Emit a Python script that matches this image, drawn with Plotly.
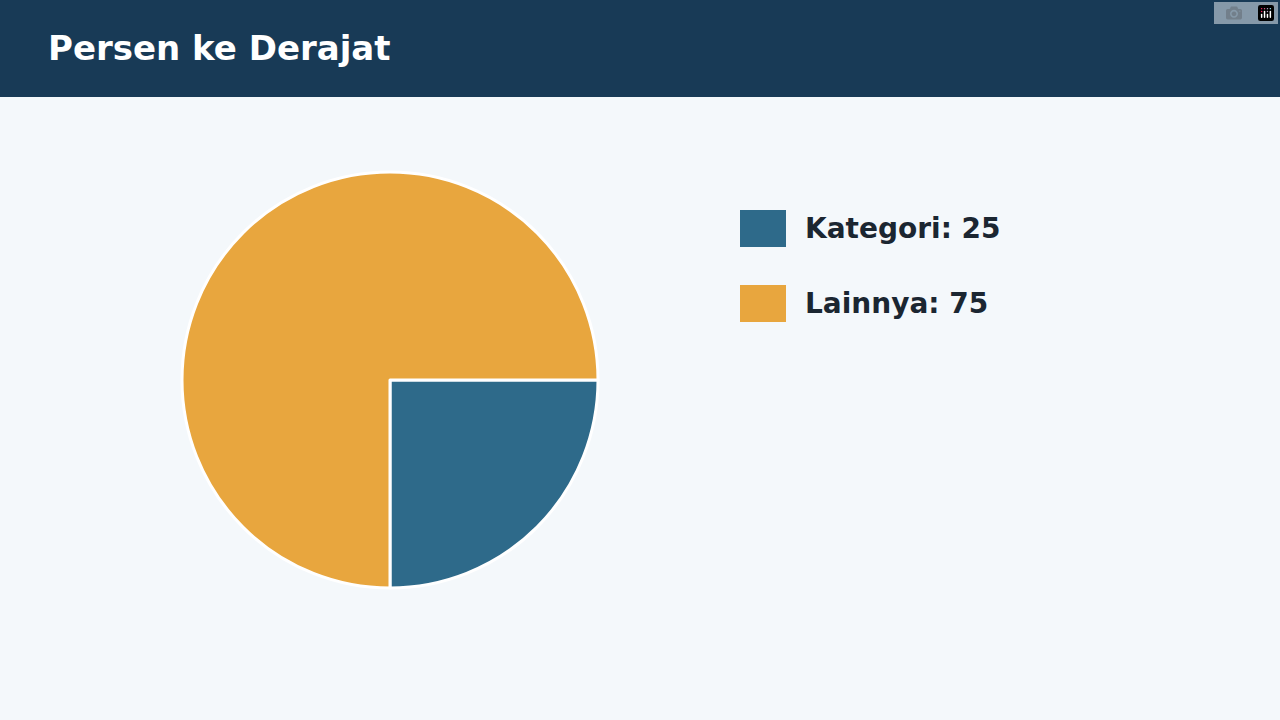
import plotly.graph_objects as go

labels = ["Kategori", "Lainnya"]
values = [25, 75]
colors = ["#2E6A8A", "#E8A63E"]
title = "Persen ke Derajat"

W, H = 1280, 720

fig = go.Figure()
fig.add_trace(go.Pie(
    labels=labels, values=values, sort=False, direction="clockwise", rotation=90,
    marker=dict(colors=colors, line=dict(color="white", width=3)),
    textinfo="none", hoverinfo="label+value", showlegend=False,
    domain=dict(x=[182 / W, 598 / W], y=[(H - 588) / H, (H - 172) / H]),
))

shapes = [dict(type="rect", xref="paper", yref="paper", x0=0, x1=1, y0=1 - 97 / H, y1=1,
               fillcolor="#183A56", line_width=0, layer="below")]
annotations = [dict(text="<b>%s</b>" % title, xref="paper", yref="paper", x=46 / W, y=1 - 48 / H,
                    xanchor="left", yanchor="middle", showarrow=False,
                    font=dict(size=34, color="white"))]

# legend drawn by hand
for i, (lab, val) in enumerate(zip(labels, values)):
    top = 210 + i * 75
    shapes.append(dict(type="rect", xref="paper", yref="paper", x0=740 / W, x1=786 / W,
                       y0=1 - (top + 37) / H, y1=1 - top / H, fillcolor=colors[i], line_width=0))
    annotations.append(dict(text="<b>%s: %d</b>" % (lab, val), xref="paper", yref="paper",
                            x=803 / W, y=1 - (top + 18) / H, xanchor="left", yanchor="middle",
                            showarrow=False, font=dict(size=28, color="#1B2631")))

fig.update_layout(
    width=W, height=H, margin=dict(l=0, r=0, t=0, b=0),
    paper_bgcolor="#F4F8FB", plot_bgcolor="#F4F8FB",
    font=dict(family="DejaVu Sans"),
    shapes=shapes, annotations=annotations,
)
fig.write_html("out.html", post_script="document.body.style.margin='0';document.body.style.background='#F4F8FB';")
